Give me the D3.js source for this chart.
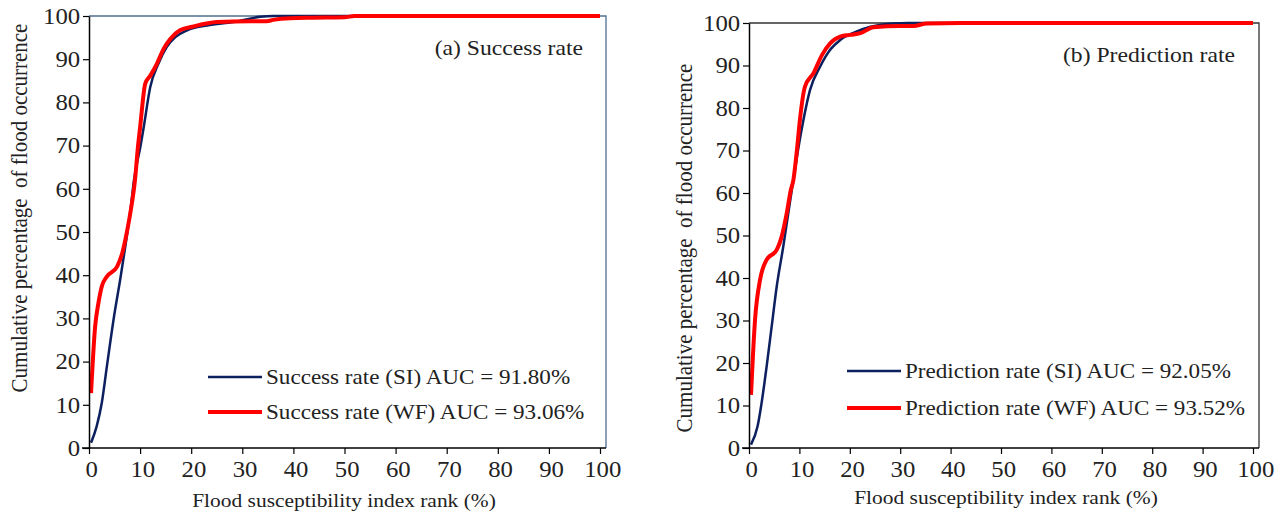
<!DOCTYPE html>
<html>
<head>
<meta charset="utf-8">
<script src="https://cdn.jsdelivr.net/npm/d3@7"></script>
<style>
  body { margin: 0; background: #fff; }
  svg text { font-family: "Times New Roman", "Liberation Serif", "DejaVu Serif", serif; fill: #222; }
</style>
</head>
<body>
<div id="chart"></div>
<script>
// x = flood susceptibility index rank (%), y = cumulative percentage of flood occurrence
const successX_SI = [0.4, 1.5, 2.5, 3.5, 4.8, 6.2, 7.2, 8.2, 8.8, 10.1, 10.7, 12, 13.6, 15.2, 16.9, 19.2, 23.1, 28.3, 33.5, 36, 100];
const successY_SI = [1.2, 5, 10.4, 18.9, 29.7, 39.7, 47.4, 55.9, 62, 70, 74.2, 83.6, 89, 92.8, 95.1, 96.7, 97.8, 98.6, 99.8, 100, 100];
const successX_WF = [0.4, 1.2, 1.85, 2.5, 3.5, 5.5, 6.5, 7.5, 8.2, 9.0, 9.6, 10.0, 11.0, 12.0, 13.3, 14.6, 15.9, 17.8, 20.5, 25, 31.6, 34.8, 36, 39.4, 44, 50, 52, 100];
const successY_WF = [12.7, 28.1, 33.6, 37.4, 39.7, 42, 45.1, 50.5, 55.2, 62, 70, 74.2, 84.3, 86.2, 89, 92.4, 94.7, 96.7, 97.6, 98.6, 98.8, 98.8, 99.1, 99.5, 99.6, 99.7, 100, 100];

const predX_SI = [0.4, 1.7, 2.5, 3.5, 4.5, 5.5, 6.8, 7.8, 8.8, 10, 10.8, 12.1, 14.1, 16.1, 18.1, 21.4, 24.1, 28.6, 31.6, 100];
const predY_SI = [0.8, 5.1, 10.6, 19.2, 28.6, 38, 47.4, 55.3, 63.1, 72, 77.2, 84.2, 89.7, 93.7, 96, 98, 99.1, 99.9, 100, 100];
const predX_WF = [0.4, 1.2, 2.2, 3.5, 5.5, 6.5, 7.5, 8.3, 8.8, 9.5, 10.1, 11.1, 12.8, 14.5, 16.1, 18.1, 20.1, 22.1, 24.7, 30, 32.6, 35.3, 42, 100];
const predY_WF = [12.5, 30.2, 39.6, 44.3, 46.6, 49.8, 55.3, 60.7, 63, 70, 77.2, 85, 88.2, 92.5, 95.2, 96.8, 97.2, 97.6, 99, 99.3, 99.3, 99.9, 100, 100];

const xTicks = d3.range(0, 101, 10);
const yTicks = d3.range(0, 101, 10);

// the source picture is slightly wider than tall, so text is stretched a bit
const STRETCH = 1.1;

const panels = [
  {
    label: "(a) Success rate",
    xSI: successX_SI, ySI: successY_SI, xWF: successX_WF, yWF: successY_WF,
    legend: ["Success rate (SI) AUC = 91.80%", "Success rate (WF) AUC = 93.06%"],
    left: 89, right: 600, top: 16, bottom: 448, frameRight: 606, frameColor: "#4f6f8f",
    yTitle: [19, 208], xTitle: [344, 507], labelPos: [583, 55], legX: 208, legY: [377, 412]
  },
  {
    label: "(b) Prediction rate",
    xSI: predX_SI, ySI: predY_SI, xWF: predX_WF, yWF: predY_WF,
    legend: ["Prediction rate (SI) AUC = 92.05%", "Prediction rate (WF) AUC = 93.52%"],
    left: 749, right: 1253, top: 23, bottom: 448, frameRight: 1259, frameColor: "#333",
    yTitle: [684, 248], xTitle: [1006, 504], labelPos: [1235, 62], legX: 847, legY: [371, 408]
  }
];

const svg = d3.select("#chart").append("svg")
  .attr("width", 1287)
  .attr("height", 520);

function addText(g, x, y, str, size, anchor, rotate) {
  return g.append("text")
    .attr("transform", `translate(${x},${y}) scale(${STRETCH},1)` + (rotate ? ` rotate(${rotate})` : ""))
    .attr("text-anchor", anchor)
    .style("font-size", size + "px")
    .style("white-space", "pre")
    .text(str);
}

panels.forEach(p => {
  const x = d3.scaleLinear().domain([0, 100]).range([p.left, p.right]);
  const y = d3.scaleLinear().domain([0, 100]).range([p.bottom, p.top]);
  const g = svg.append("g");

  // plot frame (top and right)
  g.append("path")
    .attr("d", `M${p.left},${p.top}H${p.frameRight}V${p.bottom}`)
    .attr("fill", "none")
    .attr("stroke", p.frameColor)
    .attr("stroke-width", 1.3);

  const line = d3.line().curve(d3.curveMonotoneX).x(d => x(d[0])).y(d => y(d[1]));

  g.append("path")
    .datum(d3.zip(p.xSI, p.ySI))
    .attr("d", line)
    .attr("fill", "none")
    .attr("stroke", "#0c1f5e")
    .attr("stroke-width", 2.5);

  g.append("path")
    .datum(d3.zip(p.xWF, p.yWF))
    .attr("d", line)
    .attr("fill", "none")
    .attr("stroke", "#ff0000")
    .attr("stroke-width", 4);

  // axes
  const xAxis = g.append("g")
    .attr("transform", `translate(0,${p.bottom})`)
    .call(d3.axisBottom(x).tickValues(xTicks).tickSize(6).tickSizeOuter(0).tickPadding(7));
  xAxis.select(".domain").attr("d", `M${p.left - 7},0H${p.frameRight}`);

  const yAxis = g.append("g")
    .attr("transform", `translate(${p.left},0)`)
    .call(d3.axisLeft(y).tickValues(yTicks).tickSize(6).tickSizeOuter(0).tickPadding(2));

  [xAxis, yAxis].forEach(a => {
    a.attr("font-family", null);
    a.selectAll(".domain").attr("stroke", "#000").attr("stroke-width", 1.5);
    a.selectAll(".tick line").attr("stroke", "#000").attr("stroke-width", 1.2);
    a.selectAll("text")
      .attr("fill", "#222")
      .attr("transform", `scale(${STRETCH},1)`)
      .style("font-size", "22.5px");
  });
  xAxis.selectAll("text").attr("dx", "2");

  // axis titles
  addText(g, p.xTitle[0], p.xTitle[1], "Flood susceptibility index rank (%)", 19.5, "middle");
  addText(g, p.yTitle[0], p.yTitle[1], "Cumulative percentage  of flood occurrence", 21, "middle", -90)
    .attr("dy", "0.35em");

  // panel label
  addText(g, p.labelPos[0], p.labelPos[1], p.label, 21.5, "end").attr("fill", "#111");

  // legend
  const legColors = ["#0c1f5e", "#ff0000"];
  const legWidths = [2.5, 4];
  p.legend.forEach((t, i) => {
    g.append("line")
      .attr("x1", p.legX).attr("x2", p.legX + 54)
      .attr("y1", p.legY[i]).attr("y2", p.legY[i])
      .attr("stroke", legColors[i])
      .attr("stroke-width", legWidths[i]);
    addText(g, p.legX + 58, p.legY[i], t, 21, "start").attr("dy", "0.35em");
  });
});
</script>
</body>
</html>
